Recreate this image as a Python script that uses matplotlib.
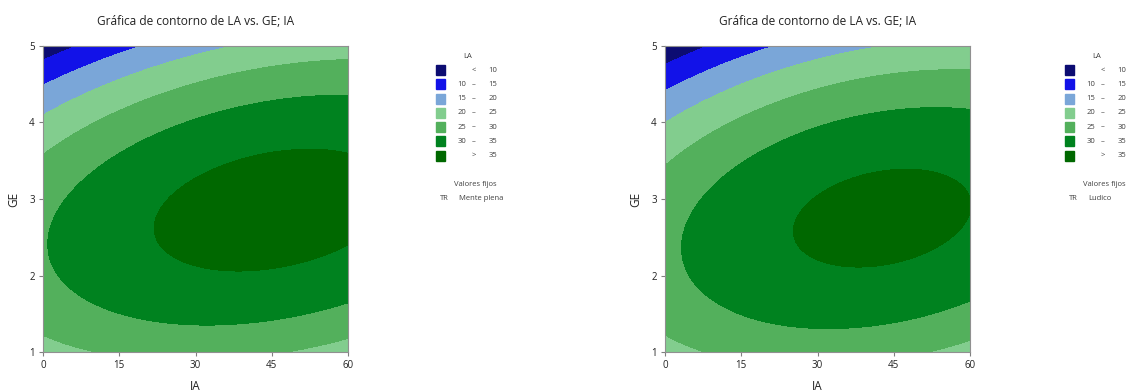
import numpy as np
import matplotlib
matplotlib.use("Agg")
import matplotlib.pyplot as plt

plt.rcParams['font.family'] = ['Open Sans', 'DejaVu Sans']

# Modelo cuadrático de LA en variables codificadas
# x = (IA - 30) / 30, y = (GE - 3) / 2
# coeficientes: [const, x, y, x^2, y^2, x*y]
coef_mente_plena = [35.81, 3.86, -4.05, -3.46, -13.5, 4.05]
coef_ludico = [35.12, 3.76, -4.82, -3.87, -12.85, 3.79]

ia_range = [0, 60]
ge_range = [1, 5]
ia_ticks = [0, 15, 30, 45, 60]
ge_ticks = [1, 2, 3, 4, 5]

niveles = [-100, 10, 15, 20, 25, 30, 35, 100]
colores = ['#0c0c72', '#1212e8', '#7aa6d8', '#82cd8e', '#53b05c', '#00821f', '#006800']
etiquetas = [('', '<', '10'), ('10', '–', '15'), ('15', '–', '20'), ('20', '–', '25'),
             ('25', '–', '30'), ('30', '–', '35'), ('', '>', '35')]

paneles = [
    {'coef': coef_mente_plena, 'tr': 'Mente plena', 'ax_px': 43, 'leg_px': 436},
    {'coef': coef_ludico, 'tr': 'Ludico', 'ax_px': 665, 'leg_px': 1065},
]

W, H = 1131, 391
fig = plt.figure(figsize=(W / 100, H / 100), dpi=100)

def fx(px):
    return px / W

def fy(py):
    return 1 - py / H

ia = np.linspace(ia_range[0], ia_range[1], 400)
ge = np.linspace(ge_range[0], ge_range[1], 400)
IA, GE = np.meshgrid(ia, ge)
X = (IA - 30) / 30
Y = (GE - 3) / 2

texto = '#404040'

for p in paneles:
    c0, cx, cy, cxx, cyy, cxy = p['coef']
    LA = c0 + cx * X + cy * Y + cxx * X**2 + cyy * Y**2 + cxy * X * Y

    ax = fig.add_axes([fx(p['ax_px']), fy(352), 305 / W, 306 / H])
    ax.contourf(IA, GE, LA, levels=niveles, colors=colores)
    ax.set_xlim(ia_range)
    ax.set_ylim(ge_range)
    ax.set_xticks(ia_ticks)
    ax.set_yticks(ge_ticks)
    ax.tick_params(labelsize=7, length=3, width=0.8, color='#808080', labelcolor='#222222', pad=3)
    for s in ax.spines.values():
        s.set_color('#909090')
        s.set_linewidth(0.8)
    ax.set_xlabel('IA', fontsize=8.5, color='#222222', labelpad=6)
    ax.set_ylabel('GE', fontsize=8.5, color='#222222', labelpad=6)
    ax.set_title('Gráfica de contorno de LA vs. GE; IA', fontsize=8.6, color='#222222', pad=15)

    # leyenda
    lx = p['leg_px']
    fig.text(fx(lx + 32), fy(57), 'LA', fontsize=5.5, color=texto, ha='center', va='center')
    for i, (col, (a, s, b)) in enumerate(zip(colores, etiquetas)):
        yy = 70 + i * 14.3
        fig.patches.append(plt.Rectangle((fx(lx), fy(yy + 5)), 9 / W, 10 / H,
                                         transform=fig.transFigure, color=col, figure=fig))
        fig.text(fx(lx + 30), fy(yy), a, fontsize=5.5, color=texto, ha='right', va='center')
        fig.text(fx(lx + 38), fy(yy), s, fontsize=5.5, color=texto, ha='center', va='center')
        fig.text(fx(lx + 61), fy(yy), b, fontsize=5.5, color=texto, ha='right', va='center')
    fig.text(fx(lx + 39), fy(184), 'Valores fijos', fontsize=5.5, color=texto, ha='center', va='center')
    fig.text(fx(lx + 8), fy(198), 'TR', fontsize=5.5, color=texto, ha='center', va='center')
    fig.text(fx(lx + 23), fy(198), p['tr'], fontsize=5.5, color=texto, ha='left', va='center')

fig.savefig('out.png', dpi=100)
